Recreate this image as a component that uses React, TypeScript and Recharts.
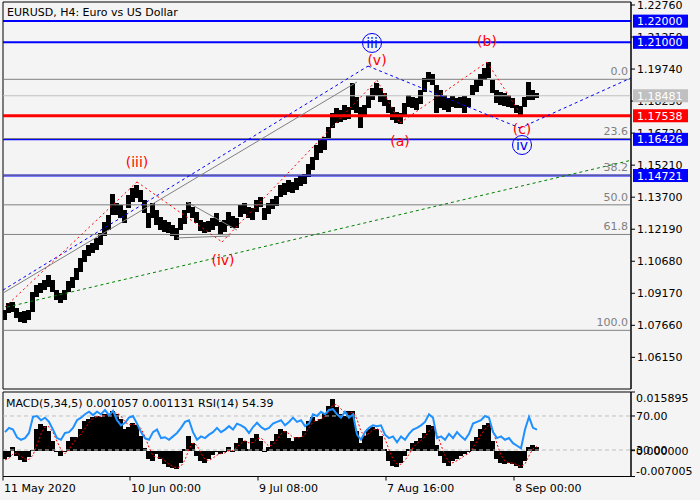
import React from 'react';
import {
  ComposedChart,
  Bar,
  Line,
  XAxis,
  YAxis,
  ReferenceLine,
  ReferenceDot,
  ReferenceArea,
} from 'recharts';

const FONT = '"DejaVu Sans", sans-serif';
const BG = '#f4f4f4';

// ---- price data (H4 bars grouped, 4 bars per slot) ----
const highs = [
  1.0838, 1.0871, 1.0876, 1.0848, 1.0829, 1.0833, 1.0838, 1.0923, 1.0956, 1.0965,
  1.0980, 1.1003, 1.0980, 1.0932, 1.0918, 1.0932, 1.0975, 1.0994, 1.1036, 1.1083,
  1.1121, 1.1145, 1.1154, 1.1178, 1.1201, 1.1253, 1.1286, 1.1385, 1.1343, 1.1333,
  1.1310, 1.1380, 1.1413, 1.1427, 1.1404, 1.1357, 1.1295, 1.1343, 1.1310, 1.1277,
  1.1262, 1.1253, 1.1239, 1.1225, 1.1272, 1.1310, 1.1347, 1.1324, 1.1300, 1.1262,
  1.1253, 1.1258, 1.1272, 1.1295, 1.1253, 1.1262, 1.1300, 1.1281, 1.1272, 1.1333,
  1.1343, 1.1324, 1.1319, 1.1357, 1.1371, 1.1319, 1.1343, 1.1361, 1.1376, 1.1427,
  1.1437, 1.1451, 1.1442, 1.1460, 1.1470, 1.1479, 1.1526, 1.1559, 1.1616, 1.1640,
  1.1654, 1.1701, 1.1767, 1.1791, 1.1781, 1.1805, 1.1795, 1.1908, 1.1842, 1.1795,
  1.1805, 1.1852, 1.1885, 1.1908, 1.1885, 1.1861, 1.1828, 1.1795, 1.1772, 1.1767,
  1.1814, 1.1852, 1.1842, 1.1838, 1.1875, 1.1932, 1.1960, 1.1951, 1.1899, 1.1875,
  1.1852, 1.1838, 1.1847, 1.1838, 1.1842, 1.1847, 1.1838, 1.1899, 1.1923, 1.1951,
  1.1979, 1.2007, 1.1923, 1.1875, 1.1866, 1.1861, 1.1852, 1.1838, 1.1805, 1.1800,
  1.1842, 1.1913, 1.1875, 1.1861,
];
const lows = [
  1.0791, 1.0824, 1.0829, 1.0800, 1.0782, 1.0777, 1.0791, 1.0829, 1.0899, 1.0918,
  1.0932, 1.0947, 1.0923, 1.0885, 1.0871, 1.0885, 1.0923, 1.0942, 1.0980, 1.1017,
  1.1064, 1.1093, 1.1107, 1.1121, 1.1145, 1.1187, 1.1215, 1.1286, 1.1286, 1.1272,
  1.1248, 1.1319, 1.1347, 1.1366, 1.1347, 1.1295, 1.1225, 1.1272, 1.1239, 1.1215,
  1.1206, 1.1201, 1.1187, 1.1168, 1.1215, 1.1244, 1.1295, 1.1272, 1.1248, 1.1211,
  1.1201, 1.1206, 1.1215, 1.1234, 1.1192, 1.1206, 1.1234, 1.1225, 1.1225, 1.1277,
  1.1291, 1.1272, 1.1262, 1.1300, 1.1324, 1.1262, 1.1291, 1.1314, 1.1328, 1.1371,
  1.1380, 1.1394, 1.1390, 1.1404, 1.1423, 1.1432, 1.1465, 1.1498, 1.1545, 1.1578,
  1.1593, 1.1640, 1.1696, 1.1720, 1.1725, 1.1734, 1.1739, 1.1781, 1.1767, 1.1696,
  1.1748, 1.1790, 1.1828, 1.1847, 1.1819, 1.1800, 1.1767, 1.1734, 1.1720, 1.1715,
  1.1748, 1.1795, 1.1790, 1.1781, 1.1809, 1.1866, 1.1913, 1.1899, 1.1767, 1.1790,
  1.1781, 1.1772, 1.1795, 1.1790, 1.1790, 1.1767, 1.1795, 1.1852, 1.1866, 1.1894,
  1.1923, 1.1932, 1.1861, 1.1814, 1.1805, 1.1800, 1.1795, 1.1790, 1.1767, 1.1757,
  1.1795, 1.1828, 1.1828, 1.1838,
];

// ---- indicator data ----
const macdHist = [
  -0.0022, -0.0016, 0.0011, -0.0014, -0.0024, -0.0030, -0.0016, 0.0003, 0.0060, 0.0073,
  0.0068, 0.0054, 0.0027, -0.0005, -0.0014, -0.0005, 0.0027, 0.0038, 0.0038, 0.0060,
  0.0081, 0.0087, 0.0092, 0.0095, 0.0092, 0.0098, 0.0100, 0.0108, 0.0098, 0.0087,
  0.0060, 0.0065, 0.0076, 0.0070, 0.0041, 0.0008, -0.0022, -0.0027, -0.0008, -0.0022,
  -0.0035, -0.0043, -0.0046, -0.0051, -0.0033, 0.0005, 0.0041, 0.0022, -0.0014, -0.0027,
  -0.0033, -0.0022, -0.0011, -0.0005, -0.0008, -0.0005, 0.0011, -0.0005, 0.0022, 0.0033,
  0.0027, 0.0005, 0.0035, 0.0046, 0.0027, 0.0000, 0.0011, 0.0027, 0.0046, 0.0060,
  0.0054, 0.0033, 0.0027, 0.0038, 0.0038, 0.0054, 0.0081, 0.0092, 0.0081, 0.0087,
  0.0103, 0.0122, 0.0141, 0.0117, 0.0100, 0.0095, 0.0108, 0.0108, 0.0054, 0.0022,
  0.0041, 0.0060, 0.0065, 0.0060, 0.0041, 0.0005, -0.0027, -0.0041, -0.0043, -0.0033,
  -0.0014, 0.0005, 0.0022, 0.0027, 0.0033, 0.0049, 0.0070, 0.0068, 0.0014, -0.0014,
  -0.0033, -0.0041, -0.0027, -0.0022, -0.0014, -0.0008, -0.0003, 0.0027, 0.0038, 0.0060,
  0.0070, 0.0076, 0.0027, -0.0022, -0.0033, -0.0035, -0.0033, -0.0035, -0.0041, -0.0046,
  -0.0027, 0.0011, 0.0016, 0.0011,
];
const macdSignal = [
  -0.0025, -0.0021, -0.0009, -0.0006, -0.0015, -0.0023, -0.0024, -0.0012, 0.0016, 0.0045,
  0.0064, 0.0065, 0.0050, 0.0025, 0.0003, -0.0008, 0.0003, 0.0020, 0.0034, 0.0045,
  0.0060, 0.0076, 0.0087, 0.0092, 0.0093, 0.0095, 0.0098, 0.0102, 0.0102, 0.0094,
  0.0078, 0.0070, 0.0071, 0.0071, 0.0060, 0.0038, 0.0009, -0.0014, -0.0019, -0.0019,
  -0.0028, -0.0037, -0.0043, -0.0047, -0.0042, -0.0025, 0.0004, 0.0021, 0.0014, -0.0007,
  -0.0024, -0.0027, -0.0020, -0.0012, -0.0008, -0.0006, 0.0000, 0.0000, 0.0009, 0.0020,
  0.0027, 0.0021, 0.0022, 0.0032, 0.0035, 0.0022, 0.0012, 0.0016, 0.0030, 0.0045,
  0.0052, 0.0046, 0.0036, 0.0034, 0.0036, 0.0044, 0.0062, 0.0078, 0.0083, 0.0085,
  0.0093, 0.0106, 0.0124, 0.0125, 0.0113, 0.0102, 0.0102, 0.0104, 0.0085, 0.0052,
  0.0040, 0.0047, 0.0057, 0.0060, 0.0053, 0.0032, 0.0003, -0.0023, -0.0036, -0.0037,
  -0.0026, -0.0010, 0.0008, 0.0020, 0.0028, 0.0038, 0.0053, 0.0063, 0.0046, 0.0015,
  -0.0013, -0.0031, -0.0033, -0.0027, -0.0020, -0.0013, -0.0007, 0.0009, 0.0025, 0.0044,
  0.0058, 0.0069, 0.0055, 0.0018, -0.0012, -0.0028, -0.0033, -0.0034, -0.0038, -0.0043,
  -0.0036, -0.0014, 0.0005, 0.0011,
];
const rsiValues = [
  51, 56, 54, 45, 42, 44, 50, 69, 70, 65, 68, 63, 54, 44, 42, 50, 51, 56, 65, 68,
  72, 75, 71, 75, 72, 77, 71, 76, 65, 59, 62, 68, 70, 61, 51, 44, 42, 51, 54, 44,
  45, 42, 46, 50, 56, 63, 65, 51, 42, 46, 44, 48, 51, 56, 51, 54, 58, 54, 61, 59,
  56, 50, 57, 62, 57, 54, 56, 61, 63, 65, 59, 63, 68, 63, 65, 58, 61, 72, 70, 75,
  72, 77, 78, 72, 68, 75, 68, 72, 48, 42, 51, 56, 59, 58, 59, 48, 44, 46, 39, 46,
  42, 49, 54, 56, 59, 63, 72, 68, 44, 46, 42, 49, 44, 51, 46, 42, 49, 61, 63, 65,
  70, 68, 51, 44, 46, 42, 44, 38, 35, 32, 54, 69, 56, 54,
];

// ---- axes ----
const SLOTS = 157;
const PRICE_MIN = 1.04658;
const PRICE_MAX = 1.22901;
const priceTicks = [
  1.2276, 1.2125, 1.1974, 1.1823, 1.1672, 1.1521, 1.137, 1.1219, 1.1068, 1.0917, 1.0766, 1.0615,
];
const MACD_MIN = -0.007005;
const MACD_MAX = 0.015895;
const macdTicks = [MACD_MAX, 0, MACD_MIN];
const RSI_MIN = -1.2;
const RSI_MAX = 98.2;
const rsiLevels = [70, 30];
const timeSlots = [0, 31.75, 63.75, 95.75, 127.75];
const timeLabels = ['11 May 2020', '10 Jun 00:00', '9 Jul 08:00', '7 Aug 16:00', '8 Sep 00:00'];

// ---- levels ----
const fibLevels = [
  { label: '0.0', price: 1.19257 },
  { label: '23.6', price: 1.16464 },
  { label: '38.2', price: 1.14737 },
  { label: '50.0', price: 1.1334 },
  { label: '61.8', price: 1.11944 },
  { label: '100.0', price: 1.07424 },
];
const keyLevels = [
  { price: 1.22, color: '#0000ff', width: 2 },
  { price: 1.21, color: '#0000ff', width: 2 },
  { price: 1.16426, color: '#0000ff', width: 2 },
  { price: 1.14721, color: '#0000ff', width: 2 },
  { price: 1.17538, color: '#ff0000', width: 3 },
];
const lastPrice = 1.18481;
const priceBoxes = [
  { price: 1.22, fill: '#0000ff' },
  { price: 1.21, fill: '#0000ff' },
  { price: lastPrice, fill: '#c0c0c0' },
  { price: 1.17538, fill: '#ff0000' },
  { price: 1.16426, fill: '#0000ff' },
  { price: 1.14721, fill: '#0000ff' },
];

// ---- wave annotations (slot, price) ----
const redWave = [
  { x: 0.5, y: 1.0852 },
  { x: 33.5, y: 1.1442 },
  { x: 54.75, y: 1.1159 },
  { x: 93.5, y: 1.1922 },
  { x: 99.25, y: 1.172 },
  { x: 121, y: 1.2007 },
  { x: 129.25, y: 1.1767 },
];
const blueWave = [
  { x: 0, y: 1.0932 },
  { x: 91.25, y: 1.1988 },
  { x: 129.25, y: 1.1696 },
  { x: 157, y: 1.1932 },
];
const grayChannel = [
  { x: 0, y: 1.0918 },
  { x: 88.5, y: 1.1913 },
];
const triangleUpper = [
  { x: 46, y: 1.1347 },
  { x: 58.5, y: 1.1215 },
];
const triangleLower = [
  { x: 43.5, y: 1.1178 },
  { x: 56.75, y: 1.1187 },
];
const greenTrend = [
  { x: 1, y: 1.0852 },
  { x: 157, y: 1.1544 },
];
const redLabels = [
  { text: '(iii)', x: 33.5, y: 1.1536 },
  { text: '(iv)', x: 55, y: 1.1074 },
  { text: '(v)', x: 93.5, y: 1.2017 },
  { text: '(a)', x: 99.25, y: 1.1635 },
  { text: '(b)', x: 121, y: 1.2106 },
  { text: '(c)', x: 129.75, y: 1.1691 },
];
const blueLabels = [
  { text: 'iii', x: 92.25, y: 1.2097 },
  { text: 'iv', x: 129.75, y: 1.1616 },
];

const priceData = highs.map((h, i) => ({ x: i + 0.5, range: [lows[i], h] }));
const indData = macdHist.map((m, i) => ({ x: i + 0.5, macd: m, signal: macdSignal[i], rsi: rsiValues[i] }));

const SolidBar = (p: any) => {
  const y = Math.min(p.y, p.y + p.height);
  const h = Math.max(1, Math.abs(p.height));
  const cx = p.x + p.width / 2;
  return <rect x={cx - 2.5} y={y} width={5} height={h} fill="#000" shapeRendering="crispEdges" />;
};

const MacdTick = (props: any) => {
  const { x, y, payload } = props;
  const v = Number(payload.value);
  let ty = y + 4;
  if (v === MACD_MAX) ty = y + 10;
  if (v === MACD_MIN) ty = y - 2;
  return (
    <g>
      <line x1={x} y1={y} x2={x + 4} y2={y} stroke="#000" />
      <text x={x + 5} y={ty} fontSize={11} fontFamily={FONT} fill="#000">
        {v.toFixed(6)}
      </text>
    </g>
  );
};

const TimeTick = (props: any) => {
  const { x, y, payload, index } = props;
  return (
    <g>
      <line x1={x} y1={y} x2={x} y2={y + 4} stroke="#000" />
      <text x={x + 1} y={y + 15} fontSize={11} fontFamily={FONT} fill="#000">
        {timeLabels[index] ?? String(payload.value)}
      </text>
    </g>
  );
};

const priceTickLabel = (text: string) => (props: any) => {
  const { viewBox } = props;
  const xr = viewBox.x + viewBox.width;
  return (
    <g>
      <line x1={xr} y1={viewBox.y} x2={xr + 4} y2={viewBox.y} stroke="#000" />
      <text x={xr + 6} y={viewBox.y + 4} fontSize={11} fontFamily={FONT} fill="#000">
        {text}
      </text>
    </g>
  );
};

const boxLabel = (fill: string, text: string) => (props: any) => {
  const { viewBox } = props;
  const xr = viewBox.x + viewBox.width;
  const y = viewBox.y;
  return (
    <g>
      <rect x={xr + 2} y={y - 6.5} width={55} height={13} fill={fill} />
      <text x={xr + 6} y={y + 4} fontSize={11} fontFamily={FONT} fill="#fff">
        {text}
      </text>
    </g>
  );
};

const fibLabel = (text: string) => (props: any) => {
  const { viewBox } = props;
  const xr = viewBox.x + viewBox.width;
  return (
    <text x={xr - 3} y={viewBox.y - 4} fontSize={11} fontFamily={FONT} fill="#808080" textAnchor="end">
      {text}
    </text>
  );
};

const rsiLabel = (text: string) => (props: any) => {
  const { viewBox } = props;
  const xr = viewBox.x + viewBox.width;
  return (
    <g>
      <line x1={xr} y1={viewBox.y} x2={xr + 4} y2={viewBox.y} stroke="#000" />
      <text x={xr + 5} y={viewBox.y + 4} fontSize={11} fontFamily={FONT} fill="#000">
        {text}
      </text>
    </g>
  );
};

const segs = (pts: { x: number; y: number }[]) =>
  pts.slice(1).map((p, i) => [pts[i], p] as [{ x: number; y: number }, { x: number; y: number }]);

export default function App() {
  return (
    <div style={{ position: 'absolute', left: 0, top: 0, width: 700, height: 500, background: BG }}>
      <div style={{ position: 'absolute', left: 0, top: 0 }}>
        <ComposedChart width={700} height={390} data={priceData} margin={{ top: 2, right: 0, bottom: 1, left: 3 }}>
          <XAxis type="number" dataKey="x" domain={[0, SLOTS]} hide allowDataOverflow />
          <YAxis
            orientation="right"
            domain={[PRICE_MIN, PRICE_MAX]}
            ticks={priceTicks}
            interval={0}
            width={69}
            allowDataOverflow
            axisLine={{ stroke: '#000' }}
            tickLine={false}
            tick={false}
          />
          {keyLevels.map((l) => (
            <ReferenceLine key={'k' + l.price} y={l.price} stroke={l.color} strokeWidth={l.width} />
          ))}
          {fibLevels.map((f) => (
            <ReferenceLine key={'f' + f.label} y={f.price} stroke="#808080" strokeWidth={1} label={fibLabel(f.label)} />
          ))}
          <ReferenceLine y={lastPrice} stroke="#c0c0c0" strokeWidth={1} />
          {segs(greenTrend).map((s, i) => (
            <ReferenceLine key={'g' + i} segment={s} stroke="#008000" strokeDasharray="3 3" />
          ))}
          {segs(grayChannel).map((s, i) => (
            <ReferenceLine key={'gc' + i} segment={s} stroke="#808080" />
          ))}
          {segs(triangleUpper).map((s, i) => (
            <ReferenceLine key={'tu' + i} segment={s} stroke="#808080" />
          ))}
          {segs(triangleLower).map((s, i) => (
            <ReferenceLine key={'tl' + i} segment={s} stroke="#808080" />
          ))}
          {segs(blueWave).map((s, i) => (
            <ReferenceLine key={'bw' + i} segment={s} stroke="#0000ff" strokeDasharray="3 3" />
          ))}
          {segs(redWave).map((s, i) => (
            <ReferenceLine key={'rw' + i} segment={s} stroke="#ff0000" strokeDasharray="2 3" />
          ))}
          <Bar dataKey="range" fill="#000" barSize={4} shape={<SolidBar />} isAnimationActive={false} />
          {redLabels.map((l) => (
            <ReferenceDot
              key={'rl' + l.text}
              x={l.x}
              y={l.y}
              r={0}
              shape={(p: any) => (
                <text x={p.cx} y={p.cy + 5} fontSize={14} fontFamily={FONT} fill="#ff0000" textAnchor="middle">
                  {l.text}
                </text>
              )}
            />
          ))}
          {blueLabels.map((l) => (
            <ReferenceDot
              key={'bl' + l.text}
              x={l.x}
              y={l.y}
              r={0}
              shape={(p: any) => (
                <g>
                  <circle cx={p.cx} cy={p.cy} r={9.5} fill="none" stroke="#0000ff" />
                  <text x={p.cx} y={p.cy + 5} fontSize={14} fontFamily={FONT} fill="#0000ff" textAnchor="middle">
                    {l.text}
                  </text>
                </g>
              )}
            />
          ))}
          {priceTicks.map((t) => (
            <ReferenceLine key={'pt' + t} y={t} stroke="none" label={priceTickLabel(t.toFixed(5))} />
          ))}
          {priceBoxes.map((b) => (
            <ReferenceLine key={'pb' + b.price} y={b.price} stroke="none" label={boxLabel(b.fill, b.price.toFixed(5))} />
          ))}
          <ReferenceArea x1={0} x2={SLOTS} y1={PRICE_MIN} y2={PRICE_MAX} fill="none" stroke="#000" strokeWidth={1} />
          <text x={7} y={16} fontSize={11} fontFamily={FONT} fill="#000">
            EURUSD, H4:  Euro vs US Dollar
          </text>
        </ComposedChart>
      </div>
      <div style={{ position: 'absolute', left: 0, top: 390 }}>
        <ComposedChart width={700} height={110} data={indData} margin={{ top: 2, right: 0, bottom: 0, left: 3 }}>
          <XAxis
            type="number"
            dataKey="x"
            domain={[0, SLOTS]}
            ticks={timeSlots}
            interval={0}
            allowDataOverflow
            axisLine={false}
            tickLine={false}
            tickSize={0}
            tickMargin={0}
            height={23.5}
            tick={<TimeTick />}
          />
          <YAxis
            yAxisId="macd"
            orientation="right"
            domain={[MACD_MIN, MACD_MAX]}
            ticks={macdTicks}
            interval={0}
            width={69}
            allowDataOverflow
            axisLine={{ stroke: '#000' }}
            tickLine={false}
            tickSize={0}
            tickMargin={0}
            tick={<MacdTick />}
          />
          <YAxis yAxisId="rsi" hide domain={[RSI_MIN, RSI_MAX]} allowDataOverflow />
          {rsiLevels.map((lv) => (
            <ReferenceLine
              key={'rsi' + lv}
              yAxisId="rsi"
              y={lv}
              stroke="#c0c0c0"
              strokeDasharray="4 3"
              label={rsiLabel(lv.toFixed(2))}
            />
          ))}
          <Bar yAxisId="macd" dataKey="macd" fill="#000" barSize={4} shape={<SolidBar />} isAnimationActive={false} />
          <Line
            yAxisId="macd"
            dataKey="signal"
            stroke="#ff0000"
            strokeDasharray="2 2"
            strokeWidth={1}
            dot={false}
            isAnimationActive={false}
          />
          <Line
            yAxisId="rsi"
            dataKey="rsi"
            stroke="#1e90ff"
            strokeWidth={2}
            dot={false}
            isAnimationActive={false}
          />
          <ReferenceArea
            yAxisId="macd"
            x1={0}
            x2={SLOTS}
            y1={MACD_MIN}
            y2={MACD_MAX}
            fill="none"
            stroke="#000"
            strokeWidth={1}
          />
          <text x={6} y={17} fontSize={11} fontFamily={FONT} fill="#000">
            MACD(5,34,5) 0.001057 0.001131 RSI(14) 54.39
          </text>
        </ComposedChart>
      </div>
    </div>
  );
}
